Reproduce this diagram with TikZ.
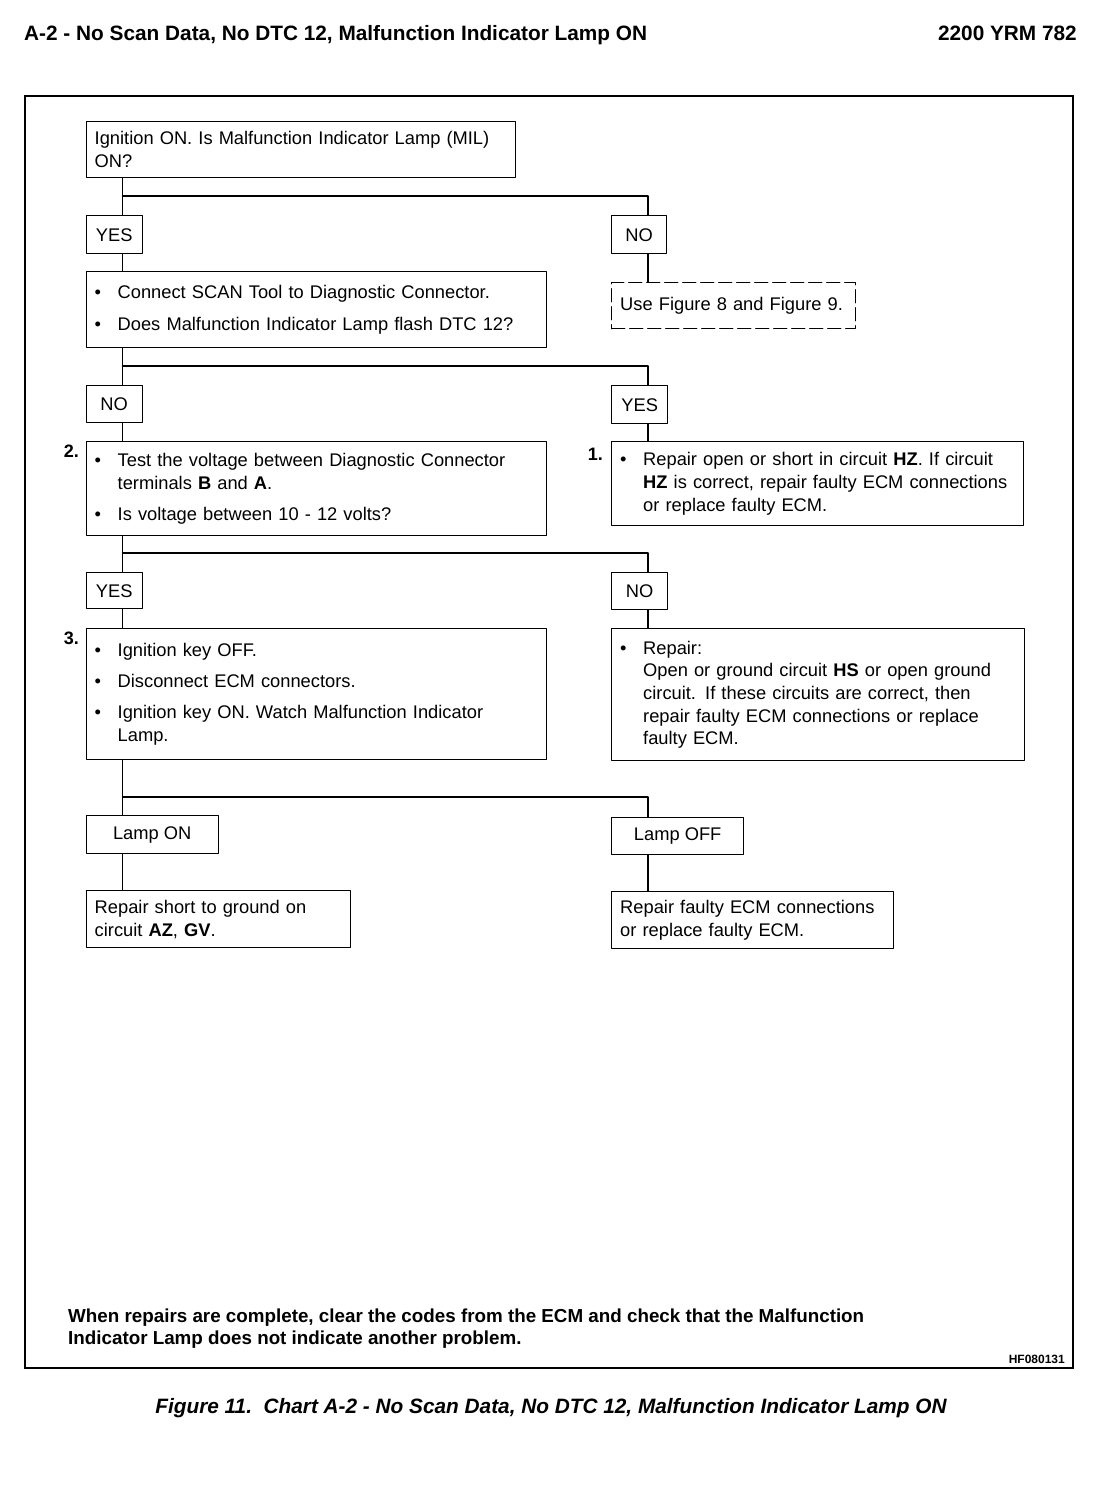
\documentclass[tikz,border=0pt]{standalone}
\usepackage{fontspec}
\setmainfont{Liberation Sans}
\setlength{\parindent}{0pt}
\newcommand{\bul}{\hangindent=23pt\hangafter=1\noindent\makebox[23pt][l]{\textbullet}}
\newcommand{\gap}{\par\vspace{8.5pt}}
\tikzset{
  box/.style={draw,line width=1.4pt,anchor=north west,inner xsep=8.5pt,inner ysep=0pt,align=left,
    font=\fontsize{18.3}{22.7}\selectfont},
  tag/.style={draw,line width=1.4pt,anchor=north west,inner sep=0pt,font=\fontsize{18.3}{22}\selectfont},
  num/.style={anchor=north east,inner sep=0pt,font=\bfseries\fontsize{18}{22}\selectfont},
  link/.style={line width=1.4pt}
}
\begin{document}
\begin{tikzpicture}[line cap=round,line join=round,x=1pt,y=-1pt]
        \useasboundingbox (0,0) rectangle (1102,1494);
        \node[anchor=base west,inner sep=0pt,font=\bfseries\fontsize{20.8}{24}\selectfont] (head) at (24,40) {A-2 - No Scan Data, No DTC 12, Malfunction Indicator Lamp ON};
        \node[anchor=base east,inner sep=0pt,font=\bfseries\fontsize{20.8}{24}\selectfont] (page) at (1077,40) {2200 YRM 782};
        \draw[line width=2.6pt,line join=miter] (25,96) rectangle (1073,1368);
        % left column
        \node[box,text width=412pt,minimum height=56pt] (b1) at (85.5,121) {Ignition ON. Is Malfunction Indicator Lamp (MIL)\newline ON?};
        \node[tag,minimum width=56pt,minimum height=38pt] (yes1) at (85.5,215) {YES};
        \node[box,text width=443pt,minimum height=76pt] (b2) at (85.5,271) {\bul Connect SCAN Tool to Diagnostic Connector.\gap\bul Does Malfunction Indicator Lamp flash DTC 12?\par};
        \node[tag,minimum width=56pt,minimum height=37pt] (no2) at (85.5,385) {NO};
        \node[box,text width=443pt,minimum height=94pt] (b3) at (85.5,441) {\bul Test the voltage between Diagnostic Connector\newline terminals \textbf{B} and \textbf{A}.\gap\bul Is voltage between 10 - 12 volts?\par};
        \node[tag,minimum width=56pt,minimum height=36pt] (yes3) at (85.5,572) {YES};
        \node[box,text width=443pt,minimum height=131pt] (b5) at (85.5,628) {\bul Ignition key OFF.\gap\bul Disconnect ECM connectors.\gap\bul Ignition key ON. Watch Malfunction Indicator\newline Lamp.\par};
        \node[tag,minimum width=132pt,minimum height=38pt] (lon) at (85.5,815) {Lamp ON};
        \node[box,text width=247pt,minimum height=57pt] (b7) at (85.5,890) {Repair short to ground on\newline circuit \textbf{AZ}, \textbf{GV}.};
        % right column
        \node[tag,minimum width=55pt,minimum height=38pt] (no1) at (611,215) {NO};
        \node[box,dash pattern=on 13pt off 5pt,text width=227pt,minimum height=46pt] (fig) at (611,282) {Use Figure 8 and Figure 9.};
        \node[tag,minimum width=56pt,minimum height=38pt] (yes2) at (611,385) {YES};
        \node[box,text width=395pt,minimum height=84pt] (b4) at (611,441) {\bul Repair open or short in circuit \textbf{HZ}. If circuit\newline \textbf{HZ} is correct, repair faulty ECM connections\newline or replace faulty ECM.\par};
        \node[tag,minimum width=56pt,minimum height=37pt] (no3) at (611,572) {NO};
        \node[box,text width=396pt,minimum height=132pt] (b6) at (611,628) {\bul Repair:\newline Open or ground circuit \textbf{HS} or open ground\newline circuit. If these circuits are correct, then\newline repair faulty ECM connections or replace\newline faulty ECM.\par};
        \node[tag,minimum width=132pt,minimum height=37pt] (loff) at (611,817) {Lamp OFF};
        \node[box,text width=265pt,minimum height=57pt] (b8) at (611,891) {Repair faulty ECM connections\newline or replace faulty ECM.};
        \node[num] (n2) at (79,445) {2.};
        \node[num] (n1) at (603,448) {1.};
        \node[num] (n3) at (79,632) {3.};
        % connectors
        \coordinate (s1) at (122.5,196);
        \coordinate (s2) at (122.5,366);
        \coordinate (s3) at (122.5,553);
        \coordinate (s4) at (122.5,797);
        \foreach \a/\b/\c/\s in {b1/yes1/no1/s1,b2/no2/yes2/s2,b3/yes3/no3/s3,b5/lon/loff/s4}
        \draw[link] ([xshift=37]\a.south west) -- ([xshift=37]\b.north west) (\s) -| ([xshift=37]\c.north west);
        \foreach \a/\b in {yes1/b2,no1/fig,no2/b3,yes2/b4,yes3/b5,no3/b6,lon/b7,loff/b8}
        \draw[link] ([xshift=37]\a.south west) -- ([xshift=37]\b.north west);
        % notes
        \node[anchor=north west,inner sep=0pt,align=left,font=\bfseries\fontsize{18.8}{22}\selectfont] (note) at (68,1309) {When repairs are complete, clear the codes from the ECM and check that the Malfunction\\ Indicator Lamp does not indicate another problem.};
        \node[anchor=base east,inner sep=0pt,font=\bfseries\fontsize{12}{14}\selectfont] (code) at (1065,1363) {HF080131};
        \node[anchor=base,inner sep=0pt,font=\bfseries\itshape\fontsize{20.8}{24}\selectfont] (cap) at (551,1413) {Figure 11.\ \ Chart A-2 - No Scan Data, No DTC 12, Malfunction Indicator Lamp ON};
\end{tikzpicture}
\end{document}
